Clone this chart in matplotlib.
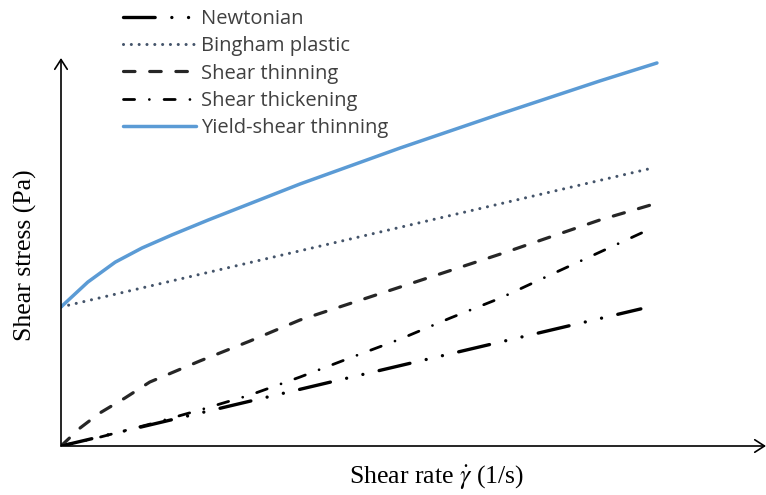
import matplotlib
matplotlib.use("Agg")
import matplotlib.pyplot as plt

# Schematic flow curves, arbitrary units (shear rate, shear stress)
newt_x = [0.0, 4.85, 9.73]
newt_y = [0.0, 1.79, 3.58]

bing_x = [0.0, 9.85]
bing_y = [3.63, 7.23]

thin_x = [0.0, 0.32, 0.65, 1.07, 1.49, 2.33, 3.17, 4.01, 5.69, 7.37, 9.04, 10.0]
thin_y = [0.0, 0.47, 0.86, 1.25, 1.67, 2.22, 2.74, 3.29, 4.15, 5.01, 5.90, 6.34]

thick_x = [0.0, 0.65, 1.49, 2.33, 3.17, 4.01, 4.85, 5.69, 6.53, 7.37, 8.20, 9.04, 9.92]
thick_y = [0.0, 0.23, 0.57, 0.94, 1.33, 1.80, 2.30, 2.79, 3.34, 3.86, 4.46, 5.06, 5.69]

yield_x = [0.0, 0.45, 0.91, 1.36, 1.86, 2.47, 4.01, 5.69, 7.37, 9.04, 10.0]
yield_y = [3.63, 4.28, 4.80, 5.17, 5.51, 5.90, 6.84, 7.78, 8.67, 9.53, 10.0]

W, H = 766, 495
fig = plt.figure(figsize=(W / 100, H / 100), dpi=100)
ax = fig.add_axes([61 / W, (H - 446) / H, (W - 61) / W, (446 - 58) / H])
ax.set_xlim(0, 11.83)
ax.set_ylim(0, 10.13)
for s in ax.spines.values():
    s.set_visible(False)
ax.set_xticks([])
ax.set_yticks([])

ax.plot(newt_x, newt_y, color="black", lw=2.4, dash_capstyle="round",
        dashes=(9.5, 5.0, 0.01, 5.0, 0.01, 5.0), label="Newtonian")
ax.plot(bing_x, bing_y, color="#44546A", lw=2.2, dash_capstyle="round",
        dashes=(0.01, 2.55), label="Bingham plastic")
ax.plot(thin_x, thin_y, color="#262626", lw=2.3, dash_capstyle="round",
        dashes=(3.6, 4.6), label="Shear thinning")
ax.plot(thick_x, thick_y, color="black", lw=2.0, dash_capstyle="round",
        dashes=(4.0, 5.3, 0.01, 5.3), label="Shear thickening")
ax.plot(yield_x, yield_y, color="#5B9BD5", lw=2.5, solid_capstyle="round",
        label="Yield-shear thinning")

arrow = dict(arrowstyle="->,head_length=0.7,head_width=0.45", color="black",
             lw=1.2, shrinkA=0, shrinkB=0)
ax.annotate("", xy=(1, 0), xytext=(0, 0), xycoords="axes fraction",
            textcoords="axes fraction", arrowprops=arrow, annotation_clip=False)
ax.annotate("", xy=(0, 1), xytext=(0, 0), xycoords="axes fraction",
            textcoords="axes fraction", arrowprops=arrow, annotation_clip=False)

fig.text(437 / W, 1 - 478 / H, r"Shear rate $\dot{\gamma}$ (1/s)",
         family="Liberation Serif", fontsize=18.5, ha="center", va="center",
         math_fontfamily="stix")
fig.text(25 / W, 1 - 255 / H, "Shear stress (Pa)", family="Liberation Serif",
         fontsize=18.5, ha="center", va="center", rotation=90)

leg = fig.legend(loc="upper left", bbox_to_anchor=(123 / W, 1 - 9 / H),
                 frameon=False, borderpad=0, borderaxespad=0,
                 handlelength=3.6, handletextpad=0.26, labelspacing=0.36,
                 prop={"family": "Open Sans", "size": 14.5})
for t in leg.get_texts():
    t.set_color("#404040")

fig.savefig("out.png", dpi=100)
